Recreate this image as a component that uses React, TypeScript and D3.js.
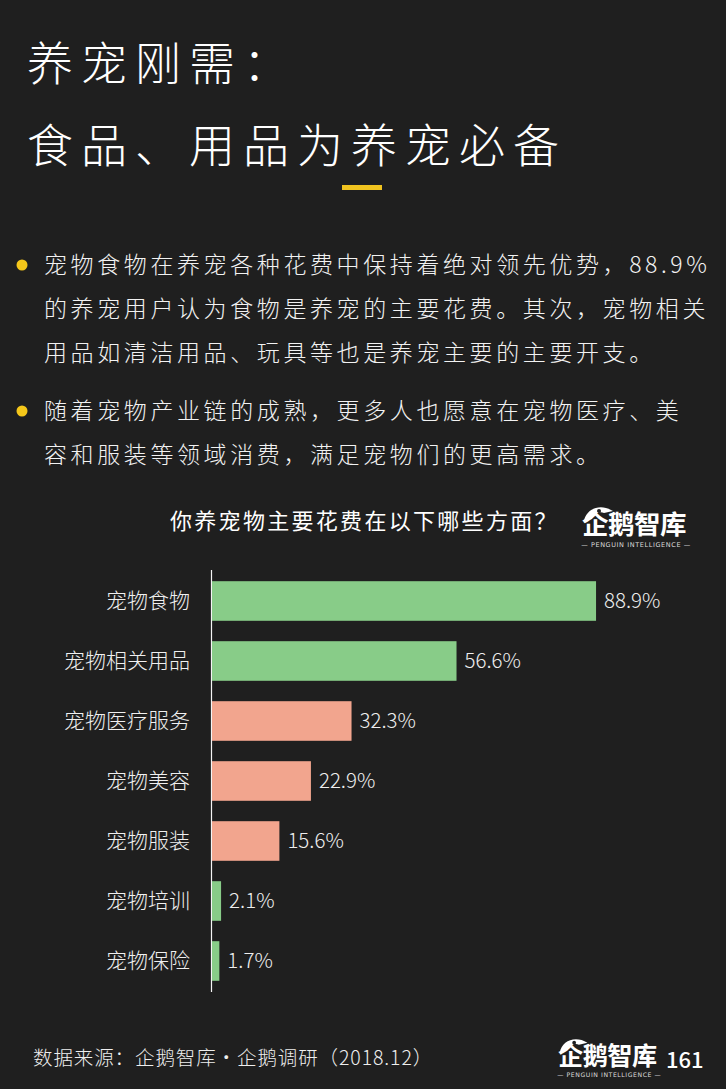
import React from "react";
import * as d3 from "d3";

const categories = ["宠物食物", "宠物相关用品", "宠物医疗服务", "宠物美容", "宠物服装", "宠物培训", "宠物保险"];
const values = [88.9, 56.6, 32.3, 22.9, 15.6, 2.1, 1.7];
const groups = ["main", "main", "up", "up", "up", "low", "low"];

const titleLines = ["养宠刚需：", "食品、用品为养宠必备"];
const para1 = ["宠物食物在养宠各种花费中保持着绝对领先优势，88.9%", "的养宠用户认为食物是养宠的主要花费。其次，宠物相关", "用品如清洁用品、玩具等也是养宠主要的主要开支。"];
const para2 = ["随着宠物产业链的成熟，更多人也愿意在宠物医疗、美", "容和服装等领域消费，满足宠物们的更高需求。"];
const chartTitle = "你养宠物主要花费在以下哪些方面？";
const sourceText = "数据来源：企鹅智库·企鹅调研（2018.12）";
const pageNo = "161";

const W = 726;
const H = 1089;
const FONT = "'Noto Sans CJK SC', 'Noto Sans', sans-serif";

const colorFor = (g: string) => (g === "up" ? "#f2a58e" : "#88cc88");

function Logo({ x, y, s }: { x: number; y: number; s: number }) {
  return (
    <g transform={`translate(${x},${y}) scale(${s})`}>
      <path d="M2,15 C4,3 18,-3 31,5 L22,7 C18,5 12,7 10,13 Z" fill="#fff" />
      <circle cx="17" cy="5" r="2" fill="#1f1f1f" />
      <text x="0" y="28" fill="#fff" fontFamily={FONT} fontWeight={700} fontSize={26.5} letterSpacing={-0.5}>
        企鹅智库
      </text>
      <text x="54" y="41" fill="#ddd" fontFamily="'DejaVu Sans', sans-serif" fontSize={6.5} textAnchor="middle" letterSpacing={0.6}>
        — PENGUIN INTELLIGENCE —
      </text>
    </g>
  );
}

export default function App() {
  const x = d3.scaleLinear().domain([0, 100]).range([212, 212 + 432]);
  const y = d3.scaleBand().domain(categories).range([571, 991]).paddingInner(0.34).paddingOuter(0.17);

  return (
    <svg width={W} height={H} style={{ position: "absolute", left: 0, top: 0, background: "#1f1f1f" }}>
      <rect x={0} y={0} width={W} height={H} fill="#1f1f1f" />
      {titleLines.map((t, i) => (
        <text key={i} x={27} y={80 + i * 82} fill="#fff" fontFamily={FONT} fontWeight={300} fontSize={46} letterSpacing={8}>
          {t}
        </text>
      ))}
      <rect x={342} y={185} width={40} height={5} fill="#f0c31f" />

      {[para1, para2].map((p, pi) => (
        <g key={pi}>
          <circle cx={22} cy={pi === 0 ? 265 : 411} r={5.5} fill="#f5c71a" />
          {p.map((t, li) => (
            <text key={li} x={44} y={(pi === 0 ? 273 : 419) + li * 44} fill="#f2f2f2" fontFamily={FONT} fontWeight={300} fontSize={23} letterSpacing={3.6}>
              {t}
            </text>
          ))}
        </g>
      ))}

      <text x={170} y={529} fill="#fff" fontFamily={FONT} fontWeight={400} fontSize={22} letterSpacing={2.3}>
        {chartTitle}
      </text>
      <Logo x={582} y={506} s={1} />

      <line x1={211.5} x2={211.5} y1={570} y2={992} stroke="#f5f5f5" strokeWidth={1.2} />
      {categories.map((c, i) => {
        const by = y(c) as number;
        const bh = y.bandwidth();
        return (
          <g key={c}>
            <rect x={x(0)} y={by} width={x(values[i]) - x(0)} height={bh} fill={colorFor(groups[i])} />
            <text x={190} y={by + bh / 2} dy="0.35em" textAnchor="end" fill="#f0f0f0" fontFamily={FONT} fontWeight={300} fontSize={21}>
              {c}
            </text>
            <text x={x(values[i]) + 8} y={by + bh / 2} dy="0.35em" fill="#eeeeee" fontFamily={FONT} fontWeight={300} fontSize={20.5}>
              {values[i].toFixed(1)}%
            </text>
          </g>
        );
      })}

      <text x={33} y={1065} fill="#eeeeee" fontFamily={FONT} fontWeight={300} fontSize={19.5} letterSpacing={0.9}>
        {sourceText}
      </text>
      <Logo x={558} y={1038} s={0.95} />
      <text x={666} y={1068} fill="#fff" fontFamily={FONT} fontWeight={500} fontSize={22}>
        {pageNo}
      </text>
    </svg>
  );
}
